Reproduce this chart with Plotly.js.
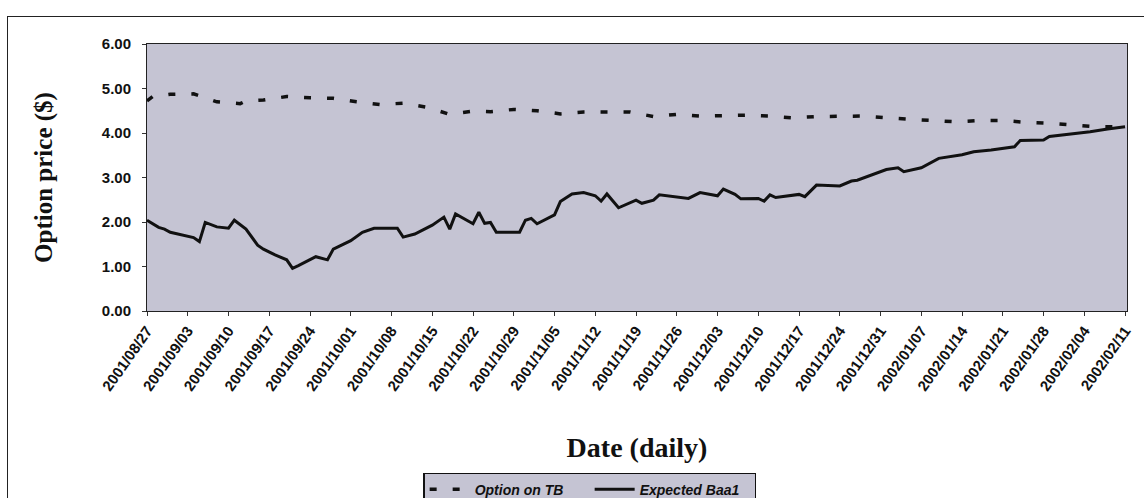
<!DOCTYPE html>
<html>
<head>
<meta charset="utf-8">
<script src="https://cdn.plot.ly/plotly-3.0.1.min.js"></script>
<style>
  html, body { margin: 0; padding: 0; background: #ffffff; }
  #wrap { position: relative; width: 1144px; height: 498px; overflow: hidden; }
  #chart { width: 1144px; height: 498px; }
  #frame { position: absolute; left: 7px; top: 16px; width: 1150px; height: 500px;
           border-left: 1.5px solid #222; border-top: 1.5px solid #222; pointer-events: none; }
</style>
</head>
<body>
<div id="wrap">
  <div id="chart"></div>
  <div id="frame"></div>
</div>
<script>
// Option on TB (dashed series)
const tbDates = [
  '2001-08-27','2001-08-28','2001-08-31','2001-09-04','2001-09-08','2001-09-12','2001-09-13',
  '2001-09-16','2001-09-20','2001-09-24','2001-09-28','2001-10-02','2001-10-06','2001-10-10',
  '2001-10-14','2001-10-18','2001-10-22','2001-10-25','2001-10-29','2001-11-02','2001-11-06',
  '2001-11-10','2001-11-14','2001-11-18','2001-11-22','2001-11-26','2001-11-30','2001-12-04',
  '2001-12-08','2001-12-12','2001-12-16','2001-12-20','2001-12-24','2001-12-28','2002-01-01',
  '2002-01-05','2002-01-09','2002-01-13','2002-01-17','2002-01-21','2002-01-25','2002-01-29',
  '2002-02-02','2002-02-06','2002-02-11'
];
const tbValues = [
  4.72, 4.82, 4.87, 4.88, 4.70, 4.66, 4.72,
  4.74, 4.82, 4.79, 4.78, 4.70, 4.64, 4.67,
  4.58, 4.42, 4.49, 4.48, 4.53, 4.50, 4.43,
  4.47, 4.47, 4.47, 4.37, 4.42, 4.38, 4.39,
  4.40, 4.38, 4.34, 4.37, 4.37, 4.38, 4.34,
  4.31, 4.28, 4.25, 4.28, 4.28, 4.24, 4.22,
  4.18, 4.14, 4.14
];

// Expected Baa1 (solid series)
const baaDates = [
  '2001-08-27','2001-08-29','2001-08-30','2001-08-31','2001-09-04','2001-09-05','2001-09-06',
  '2001-09-08','2001-09-10','2001-09-11','2001-09-13','2001-09-15','2001-09-16','2001-09-18',
  '2001-09-20','2001-09-21','2001-09-22','2001-09-25','2001-09-27','2001-09-28','2001-10-01',
  '2001-10-03','2001-10-05','2001-10-07','2001-10-09','2001-10-10','2001-10-12','2001-10-15',
  '2001-10-17','2001-10-18','2001-10-19','2001-10-22','2001-10-23','2001-10-24','2001-10-25',
  '2001-10-26','2001-10-30','2001-10-31','2001-11-01','2001-11-02','2001-11-05','2001-11-06',
  '2001-11-08','2001-11-10','2001-11-12','2001-11-13','2001-11-14','2001-11-16','2001-11-18',
  '2001-11-19','2001-11-20','2001-11-22','2001-11-23','2001-11-28','2001-11-30','2001-12-03',
  '2001-12-04','2001-12-06','2001-12-07','2001-12-10','2001-12-11','2001-12-12','2001-12-13',
  '2001-12-17','2001-12-18','2001-12-20','2001-12-24','2001-12-26','2001-12-27','2001-12-29',
  '2001-12-30','2002-01-01','2002-01-03','2002-01-04','2002-01-07','2002-01-10','2002-01-14',
  '2002-01-16','2002-01-19','2002-01-23','2002-01-24','2002-01-28','2002-01-29','2002-02-01',
  '2002-02-05','2002-02-08','2002-02-11'
];
const baaValues = [
  2.04, 1.88, 1.84, 1.77, 1.65, 1.56, 1.99,
  1.89, 1.86, 2.04, 1.84, 1.48, 1.39, 1.26,
  1.15, 0.96, 1.02, 1.22, 1.15, 1.39, 1.58,
  1.77, 1.86, 1.86, 1.86, 1.66, 1.73, 1.93,
  2.11, 1.84, 2.18, 1.96, 2.22, 1.97, 1.99,
  1.77, 1.77, 2.04, 2.08, 1.96, 2.16, 2.46,
  2.63, 2.66, 2.59, 2.47, 2.63, 2.32, 2.43,
  2.49, 2.42, 2.49, 2.61, 2.53, 2.66, 2.59,
  2.74, 2.62, 2.52, 2.53, 2.47, 2.61, 2.55,
  2.62, 2.57, 2.83, 2.81, 2.92, 2.94, 3.03,
  3.08, 3.18, 3.22, 3.13, 3.22, 3.43, 3.51,
  3.58, 3.62, 3.69, 3.83, 3.84, 3.92, 3.96,
  4.03, 4.09, 4.14
];

const seriesNames = ['Option on TB', 'Expected Baa1'];
const xTitle = 'Date (daily)';
const yTitle = 'Option price ($)';

const plotBg = '#c5c4d3';

const traces = [
  { x: tbDates, y: tbValues, name: seriesNames[0], type: 'scatter', mode: 'lines',
    line: { color: '#111111', width: 3.5, dash: '7px,16px' } },
  { x: baaDates, y: baaValues, name: seriesNames[1], type: 'scatter', mode: 'lines',
    line: { color: '#111111', width: 3 } }
];

const layout = {
  width: 1144, height: 498,
  margin: { l: 147, r: 17, t: 44, b: 187, autoexpand: false },
  paper_bgcolor: 'rgba(0,0,0,0)',
  plot_bgcolor: plotBg,
  showlegend: true,
  legend: {
    orientation: 'h', x: 0.452, xanchor: 'center', y: -0.605, yanchor: 'top',
    bgcolor: plotBg, bordercolor: '#111111', borderwidth: 1.2,
    font: { family: 'Liberation Sans, Arial, sans-serif', size: 14, weight: 'bold', style: 'italic', color: '#111' },
    itemwidth: 40, entrywidth: 110
  },
  xaxis: {
    type: 'date', automargin: false,
    range: ['2001-08-27', '2002-02-11 08:00'],
    tick0: '2001-08-27', dtick: 7 * 24 * 3600 * 1000,
    tickformat: '%Y/%m/%d',
    tickangle: -55,
    ticks: 'outside', ticklen: 4, tickcolor: '#333',
    tickfont: { family: 'Liberation Sans, Arial, sans-serif', size: 15, weight: 'bold', color: '#111' },
    showgrid: false, zeroline: false,
    showline: true, linecolor: '#222', linewidth: 1, mirror: true,
    title: { text: xTitle, standoff: 44,
      font: { family: 'Liberation Serif, Times New Roman, serif', size: 28, weight: 'bold', color: '#111' } }
  },
  yaxis: {
    range: [0, 6], dtick: 1, tickformat: '.2f', automargin: false,
    ticks: 'outside', ticklen: 4, tickcolor: '#333', ticklabelstandoff: 8,
    tickfont: { family: 'Liberation Sans, Arial, sans-serif', size: 15, weight: 'bold', color: '#111' },
    showgrid: false, zeroline: false,
    showline: true, linecolor: '#222', linewidth: 1, mirror: true,
    title: { text: yTitle, standoff: 42,
      font: { family: 'Liberation Serif, Times New Roman, serif', size: 25, weight: 'bold', color: '#111' } }
  }
};

Plotly.newPlot('chart', traces, layout, { displayModeBar: false, staticPlot: true });
</script>
</body>
</html>
